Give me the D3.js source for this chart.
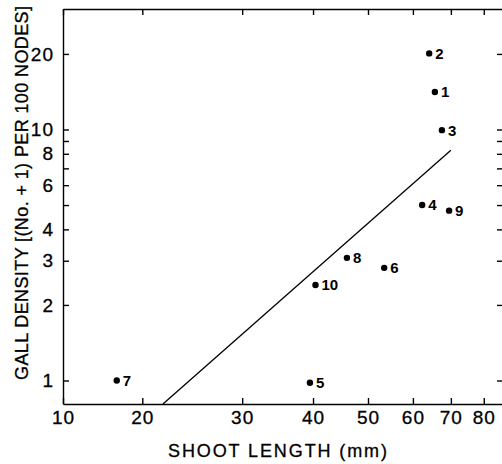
<!DOCTYPE html>
<html>
<head>
<meta charset="utf-8">
<script src="https://cdn.jsdelivr.net/npm/d3@7"></script>
<style>
  body { margin: 0; background: #fff; }
  svg { display: block; font-family: "Liberation Sans", Arial, Helvetica, sans-serif; }
  .axis path, .axis line { stroke: #000; stroke-width: 1.4; }
  .axis text { fill: #000; font-size: 19px; stroke: #000; stroke-width: 0.3px; }
  .title { stroke: #000; stroke-width: 0.3px; }
</style>
</head>
<body>
<div id="chart"></div>
<script>
// data (log-log plot)
var siteIds = [1, 2, 3, 4, 5, 6, 7, 8, 9, 10];
var shootLength = [65.6, 64.1, 67.5, 62.3, 39.5, 53.4, 16, 45.9, 69.5, 40.4];
var gallDensity = [14.1, 20.1, 9.94, 5.0, 0.98, 2.81, 1.0, 3.08, 4.75, 2.4];

// regression line end points
var fitX = [21.75, 70];
var fitY = [0.806, 8.27];

var xTicks = [10, 20, 30, 40, 50, 60, 70, 80];
var yTicks = [1, 2, 3, 4, 5, 6, 7, 8, 9, 10, 20];
var yLabelled = [1, 2, 3, 4, 6, 8, 10, 20];

var svgWidth = 502;
var svgHeight = 464;

var margin = {
  top: 9,
  right: -1,
  bottom: 60,
  left: 63
};

var chartWidth = svgWidth - margin.left - margin.right;
var chartHeight = svgHeight - margin.top - margin.bottom;

var svg = d3.select("#chart")
  .append("svg")
  .attr("width", svgWidth)
  .attr("height", svgHeight);

var chartGroup = svg.append("g")
  .attr("transform", `translate(${margin.left}, ${margin.top})`);

// x axis has a break between 10 and 20, so use a piecewise log scale
var xScale = d3.scaleLog()
  .domain([10, 20, 86.5])
  .range([0, 79.3, chartWidth]);

var yScale = d3.scaleLog()
  .domain([0.806, 30.2])
  .range([chartHeight, 0]);

// axes, ticks pointing inward
var bottomAxis = d3.axisBottom(xScale)
  .tickValues(xTicks)
  .tickFormat(d3.format("d"))
  .tickSize(-6)
  .tickSizeOuter(0)
  .tickPadding(7);

var topAxis = d3.axisTop(xScale)
  .tickValues(xTicks)
  .tickFormat("")
  .tickSize(-6)
  .tickSizeOuter(0);

var leftAxis = d3.axisLeft(yScale)
  .tickValues(yTicks)
  .tickFormat(d => yLabelled.includes(d) ? d : "")
  .tickSize(-6)
  .tickSizeOuter(0)
  .tickPadding(9);

var rightAxis = d3.axisRight(yScale)
  .tickValues(yTicks)
  .tickFormat("")
  .tickSize(-6)
  .tickSizeOuter(0);

chartGroup.append("g")
  .attr("class", "axis")
  .attr("transform", `translate(0, ${chartHeight})`)
  .call(bottomAxis);

chartGroup.append("g")
  .attr("class", "axis")
  .call(topAxis);

chartGroup.append("g")
  .attr("class", "axis")
  .call(leftAxis);

chartGroup.append("g")
  .attr("class", "axis")
  .attr("transform", `translate(${chartWidth}, 0)`)
  .call(rightAxis);

chartGroup.selectAll(".axis text")
  .attr("letter-spacing", "1px");

// fitted line
chartGroup.append("line")
  .attr("x1", xScale(fitX[0]))
  .attr("y1", yScale(fitY[0]))
  .attr("x2", xScale(fitX[1]))
  .attr("y2", yScale(fitY[1]))
  .attr("stroke", "#000")
  .attr("stroke-width", 1.3);

// points
var points = siteIds.map((id, i) => ({ id: id, x: shootLength[i], y: gallDensity[i] }));

chartGroup.selectAll("circle")
  .data(points)
  .join("circle")
  .attr("cx", d => xScale(d.x))
  .attr("cy", d => yScale(d.y))
  .attr("r", 3.2)
  .attr("fill", "#000");

chartGroup.selectAll(".pt-label")
  .data(points)
  .join("text")
  .attr("class", "pt-label")
  .attr("x", d => xScale(d.x) + 6)
  .attr("y", d => yScale(d.y))
  .attr("dy", "0.36em")
  .attr("font-size", "15px")
  .attr("font-weight", "bold")
  .text(d => d.id);

// axis titles
svg.append("text")
  .attr("class", "title")
  .attr("x", 277.5)
  .attr("y", 457)
  .attr("text-anchor", "middle")
  .attr("font-size", "18px")
  .attr("textLength", 219)
  .attr("lengthAdjust", "spacing")
  .text("SHOOT LENGTH (mm)");

svg.append("text")
  .attr("class", "title")
  .attr("transform", "translate(28, 193) rotate(-90)")
  .attr("text-anchor", "middle")
  .attr("font-size", "18px")
  .attr("textLength", 374)
  .attr("lengthAdjust", "spacing")
  .text("GALL DENSITY [(No. + 1) PER 100 NODES]");
</script>
</body>
</html>
